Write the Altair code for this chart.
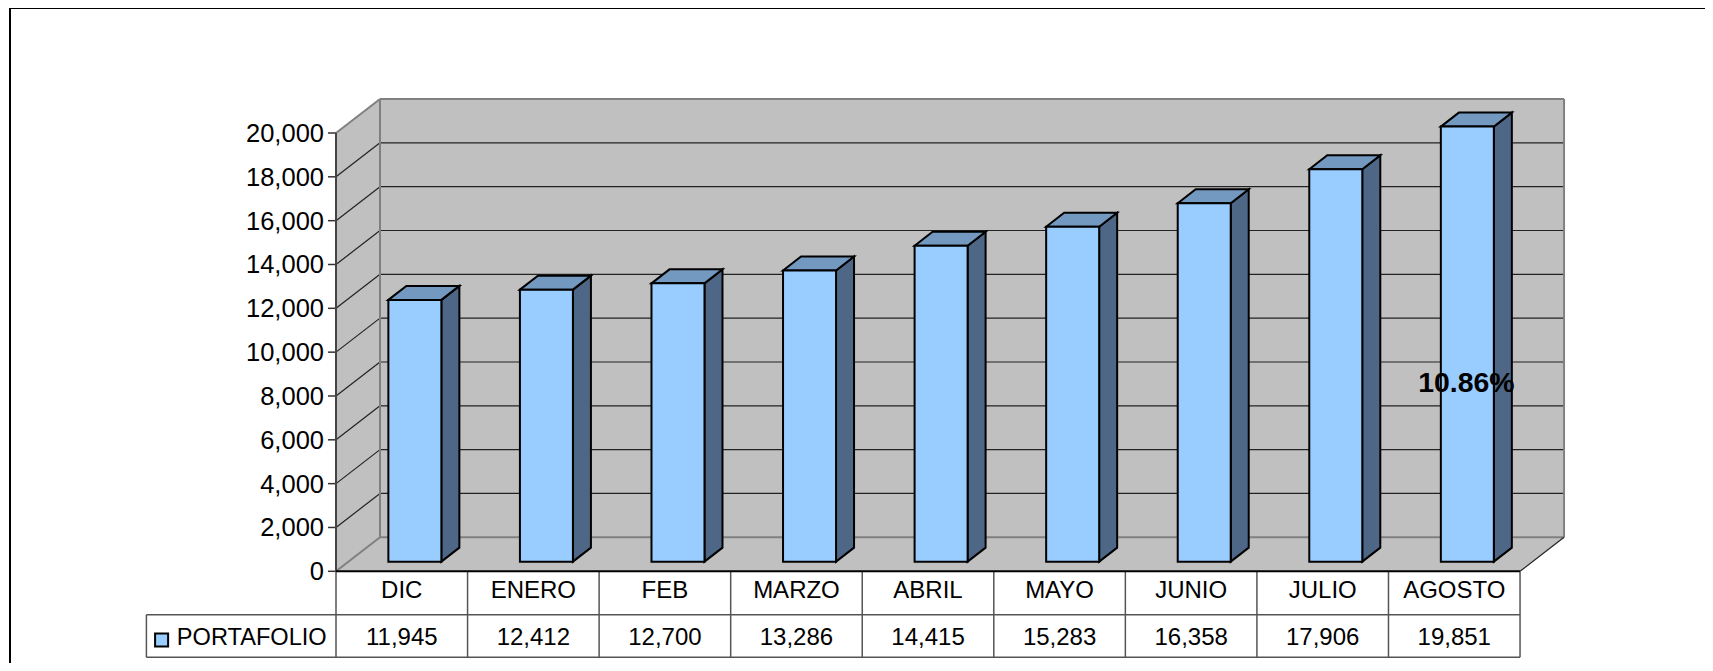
import altair as alt
import pandas as pd

months = ["DIC", "ENERO", "FEB", "MARZO", "ABRIL", "MAYO", "JUNIO", "JULIO", "AGOSTO"]
values = [11945, 12412, 12700, 13286, 14415, 15283, 16358, 17906, 19851]
ticks = [0, 2000, 4000, 6000, 8000, 10000, 12000, 14000, 16000, 18000, 20000]
series_name = "PORTAFOLIO"
note = "10.86%"

# ---- geometry of the fake 3-D box (in scale units) ----
PX_X, PX_Y = 131.56, 0.021915     # pixels per category / per value unit
W, H = 1697, 655
AX_X, AX_Y = 336 - 8, 571.3 - 8   # where the (0, 0) corner lies inside the chart
WD, WV = 44 / PX_X, 34 / PX_Y     # depth of walls
BD, BV = 18 / PX_X, 14 / PX_Y     # depth of bars
BW = 53 / PX_X
BX, BB = 0.398, 440               # bar inset and raised base
ROW1, ROW2 = -1980, -3924         # table row borders
LEG_L = (146.4 - 336) / PX_X
TICK = 8 / PX_X

x_dom = [-AX_X / PX_X, (W - AX_X) / PX_X]
y_dom = [(AX_Y - H) / PX_Y, AX_Y / PX_Y]
x_scale = alt.Scale(domain=x_dom, nice=False, zero=False)
y_scale = alt.Scale(domain=y_dom, nice=False, zero=False)
FONT = "Liberation Sans"


def X(f="x"):
    return alt.X(f"{f}:Q", scale=x_scale, axis=None, title=None)


def Y(f="y"):
    return alt.Y(f"{f}:Q", scale=y_scale, axis=None, title=None)


def poly(rows, fill, stroke=None, sw=0):
    kw = dict(fill=fill, opacity=1, interpolate="linear", orient="vertical")
    if stroke:
        kw.update(stroke=stroke, strokeWidth=sw, strokeJoin="miter")
    return alt.Chart(pd.DataFrame(rows)).mark_area(**kw).encode(
        x=X(), y=Y(), y2=alt.Y2("y2:Q"), detail="k:N"
    )


def lines(rows, color, sw):
    return alt.Chart(pd.DataFrame(rows)).mark_line(color=color, strokeWidth=sw, interpolate="linear").encode(
        x=X(), y=Y(), detail="k:N", order="o:Q"
    )


def seg(k, x0, y0, x1, y1):
    return [dict(k=k, o=0, x=x0, y=y0), dict(k=k, o=1, x=x1, y=y1)]


n = len(months)
TOP = ticks[-1]

# walls
back = [dict(k="b", x=WD, y=TOP + WV, y2=WV), dict(k="b", x=n + WD, y=TOP + WV, y2=WV)]
side = [dict(k="s", x=0, y=TOP, y2=0), dict(k="s", x=WD, y=TOP + WV, y2=WV)]
floor = [
    dict(k="f", x=0, y=0, y2=0),
    dict(k="f", x=WD, y=WV, y2=0),
    dict(k="f", x=n, y=WV, y2=0),
    dict(k="f", x=n + WD, y=WV, y2=WV),
]

# gridlines
grid = []
for t in ticks[1:-1]:
    grid += seg(f"d{t}", 0, t, WD, t + WV)
    grid += seg(f"h{t}", WD, t + WV, n + WD, t + WV)
edges = (
    seg("e1", 0, TOP, WD, TOP + WV)
    + seg("e2", WD, TOP + WV, n + WD, TOP + WV)
    + seg("e3", n + WD, TOP + WV, n + WD, WV)
    + seg("e4", n + WD, WV, WD, WV)
    + seg("e5", WD, WV, WD, TOP + WV)
    + seg("e6", 0, 0, WD, WV)
)
fr = seg("e7", n, 0, n + WD, WV)

# bars: the base floats above the front edge of the floor, so tops shift with it
front, sidef, topf = [], [], []
for i, v in enumerate(values):
    L = i + BX
    R = L + BW
    T = v + BB
    front.append(dict(x=L, x2=R, y=T, y2=BB))
    sidef += [dict(k=i, x=R, y=T, y2=BB), dict(k=i, x=R + BD, y=T + BV, y2=BB + BV)]
    topf += [
        dict(k=i, x=L, y=T, y2=T),
        dict(k=i, x=L + BD, y=T + BV, y2=T),
        dict(k=i, x=R, y=T + BV, y2=T),
        dict(k=i, x=R + BD, y=T + BV, y2=T + BV),
    ]

front_layer = alt.Chart(pd.DataFrame(front)).mark_rect(
    fill="#99ccff", stroke="black", strokeWidth=2
).encode(x=X(), x2="x2:Q", y=Y(), y2="y2:Q")

# value axis: ticks and labels
tick_rows = []
for t in ticks:
    tick_rows += seg(f"k{t}", -TICK, t, 0, t)
axis_labels = pd.DataFrame({"x": [-TICK] * len(ticks), "y": ticks, "t": [f"{t:,}" for t in ticks]})
axis_line = lines(seg("a", 0, 0, 0, TOP), "#444444", 2)

# table
table_lines = seg("t0", 0, 0, n, 0)
t_grey = seg("t1", LEG_L, ROW1, n, ROW1) + seg("t2", LEG_L, ROW2, n, ROW2) + seg("t3", LEG_L, ROW1, LEG_L, ROW2)
for i in range(n + 1):
    t_grey += seg(f"v{i}", i, 0, i, ROW2)

header = pd.DataFrame({"x": [i + 0.5 for i in range(n)], "y": -853, "t": months})
cells = pd.DataFrame({"x": [i + 0.5 for i in range(n)], "y": -2984, "t": [f"{v:,}" for v in values]})


def text(df, size, **kw):
    return alt.Chart(df).mark_text(font=FONT, fontSize=size, color="black", baseline="middle", **kw).encode(
        x=X(), y=Y(), text="t:N"
    )


swatch = alt.Chart(pd.DataFrame({"x": [-1.3256], "y": [-3135]})).mark_point(
    shape="square", size=170, fill="#99ccff", stroke="black", strokeWidth=2, opacity=1, filled=False
).encode(x=X(), y=Y())
legend_text = text(pd.DataFrame({"x": [-1.21], "y": [-2984], "t": [series_name]}), 23.6, align="left", dy=1)
note_text = text(pd.DataFrame({"x": [8.592], "y": [8590], "t": [note]}), 28.4, fontWeight="bold", align="center")

# outer frame
FX = (10 - 336) / PX_X
frame = lines(
    seg("f1", FX, y_dom[0], FX, y_dom[1] - 4) + seg("f2", FX, y_dom[1] - 4, x_dom[1], y_dom[1] - 4),
    "black", 2,
)

chart = alt.layer(
    frame,
    poly(back, "#c0c0c0"),
    poly(side, "#c0c0c0"),
    poly(floor, "#c0c0c0"),
    lines(grid, "#222222", 1.2),
    lines(edges, "#808080", 2),
    lines(fr, "#222222", 1.2),
    lines(tick_rows, "#333333", 1.5),
    axis_line,
    poly(sidef, "#4f6787", "black", 2),
    poly(topf, "#7399c1", "black", 2),
    front_layer,
    lines(t_grey, "#555555", 1.5),
    lines(table_lines, "black", 2),
    text(axis_labels, 25.5, align="right", dx=-4, dy=1),
    text(header, 24, align="center", dy=1),
    text(cells, 24, align="center", dy=1),
    swatch,
    legend_text,
    note_text,
).properties(width=W, height=H, padding=0, autosize="none", background="white").configure_view(stroke=None)

chart.save("out.html", embed_options={"renderer": "svg", "actions": False})
